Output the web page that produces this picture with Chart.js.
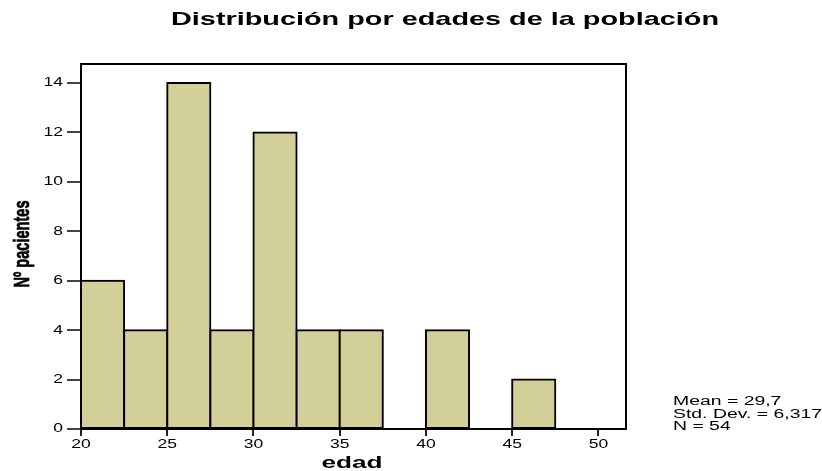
<!DOCTYPE html>
<html><head><meta charset="utf-8">
<script src="https://cdn.jsdelivr.net/npm/chart.js@4/dist/chart.umd.min.js"></script>
<style>html,body{margin:0;padding:0;background:#fff}#wrap{width:822px;height:471px}</style>
</head><body><div id="wrap"><canvas id="c" width="822" height="471"></canvas></div>
<script>
const binStarts = [20, 22.5, 25, 27.5, 30, 32.5, 35, 37.5, 40, 42.5, 45];
const binWidth = 2.5;
const counts = [6, 4, 14, 4, 12, 4, 4, 0, 4, 0, 2];
const xTicks = [20, 25, 30, 35, 40, 45, 50];
const yTicks = [0, 2, 4, 6, 8, 10, 12, 14];
const titleText = 'Distribución por edades de la población';
const xTitle = 'edad';
const yTitle = 'Nº pacientes';
const statsLines = ['Mean = 29,7', 'Std. Dev. = 6,317', 'N = 54'];

const data = binStarts.map((s, i) => ({x: s + binWidth / 2, y: counts[i]}));

const SX = 1.4; // horizontal text stretch of the reference
function stretched(ctx, text, x, y, font, sx, align) {
  ctx.save();
  ctx.font = font;
  ctx.textBaseline = 'middle';
  ctx.textAlign = 'left';
  const w = ctx.measureText(text).width * sx;
  let x0 = x;
  if (align === 'center') x0 = x - w / 2;
  else if (align === 'right') x0 = x - w;
  ctx.translate(x0, y);
  ctx.scale(sx, 1);
  ctx.fillText(text, 0, 0);
  ctx.restore();
}
function fitScale(ctx, text, font, target) {
  ctx.save(); ctx.font = font;
  const w = ctx.measureText(text).width; ctx.restore();
  return target / w;
}

const extras = {
  id: 'extras',
  afterDraw(chart) {
    const ctx = chart.ctx, a = chart.chartArea;
    const xs = chart.scales.x, ys = chart.scales.y;
    ctx.save();
    ctx.strokeStyle = '#000';
    ctx.lineWidth = 2;
    ctx.beginPath();
    ctx.moveTo(a.left, a.top); ctx.lineTo(a.right, a.top); ctx.lineTo(a.right, a.bottom);
    ctx.stroke();
    ctx.fillStyle = '#000';
    const tf = 'bold 19px "Liberation Sans", Arial, sans-serif';
    stretched(ctx, titleText, 445, 20, tf, fitScale(ctx, titleText, tf, 548), 'center');
    const ef = 'bold 17px "Liberation Sans", Arial, sans-serif';
    stretched(ctx, xTitle, 352, 463, ef, fitScale(ctx, xTitle, ef, 61), 'center');
    const tickF = '12.5px "Liberation Sans", Arial, sans-serif';
    xTicks.forEach(v => stretched(ctx, String(v), xs.getPixelForValue(v), 445, tickF, SX, 'center'));
    yTicks.forEach(v => stretched(ctx, String(v), 63, ys.getPixelForValue(v), tickF, SX, 'right'));
    // rotated y title, thickened horizontally (text's vertical axis)
    ctx.save();
    ctx.translate(23, 244);
    ctx.scale(1.45, 1);
    ctx.rotate(-Math.PI / 2);
    const yf = 'bold 15px "Liberation Sans", Arial, sans-serif';
    ctx.font = yf;
    const yw = ctx.measureText(yTitle).width;
    ctx.textAlign = 'center';
    ctx.textBaseline = 'middle';
    ctx.scale(87 / yw, 1);
    ctx.lineWidth = 0.5;
    ctx.strokeStyle = '#000';
    ctx.fillText(yTitle, 0, 0);
    ctx.strokeText(yTitle, 0, 0);
    ctx.restore();
    const sf = '12px "Liberation Sans", Arial, sans-serif';
    const ssx = fitScale(ctx, statsLines[1], sf, 149);
    statsLines.forEach((t, i) => stretched(ctx, t, 673, 402 + i * 12.5, sf, ssx, 'left'));
    ctx.restore();
  }
};

new Chart(document.getElementById('c'), {
  type: 'bar',
  data: {
    datasets: [{
      data: data,
      backgroundColor: '#d3cf98',
      borderColor: '#000',
      borderWidth: 2,
      borderSkipped: false,
      inflateAmount: 1,
      barPercentage: 1,
      categoryPercentage: 1,
      grouped: false
    }]
  },
  options: {
    responsive: false,
    animation: false,
    devicePixelRatio: 1,
    layout: {padding: {left: 0, right: 196, top: 64, bottom: 0}},
    plugins: {legend: {display: false}, tooltip: {enabled: false}, title: {display: false}},
    scales: {
      x: {
        type: 'linear',
        offset: false,
        min: 20, max: 51.6,
        afterFit(s) { s.height = 42; },
        afterBuildTicks(s) { s.ticks = xTicks.map(v => ({value: v})); },
        ticks: {display: false, includeBounds: false},
        grid: {offset: false, drawOnChartArea: false, drawTicks: true, tickLength: 7, color: '#222', lineWidth: 2},
        border: {display: true, color: '#000', width: 2}
      },
      y: {
        min: 0, max: 14.77,
        afterFit(s) { s.width = 81; },
        afterBuildTicks(s) { s.ticks = yTicks.map(v => ({value: v})); },
        ticks: {display: false, includeBounds: false},
        grid: {drawOnChartArea: false, drawTicks: true, tickLength: 14, color: '#444', lineWidth: 2},
        border: {display: true, color: '#000', width: 2}
      }
    }
  },
  plugins: [extras]
});
</script></body></html>
